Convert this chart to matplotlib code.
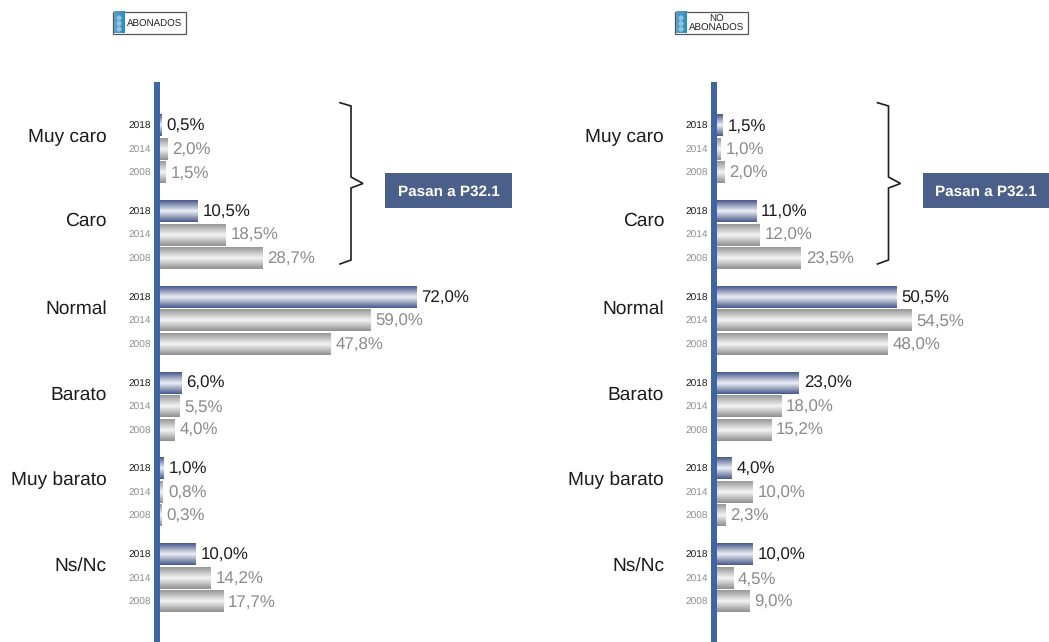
# ============================================================
# plot.py - Valoracion del precio, abonados / no abonados
# ============================================================

import numpy as np
import matplotlib
matplotlib.use("Agg")
import matplotlib.pyplot as plt
from matplotlib.colors import LinearSegmentedColormap
from matplotlib.patches import Rectangle, Circle

plt.rcParams["font.family"] = ["Liberation Sans", "DejaVu Sans"]
plt.rcParams["text.hinting"] = "none"

# ============================================================
# Data
# ============================================================
categories = ["Muy caro", "Caro", "Normal", "Barato", "Muy barato", "Ns/Nc"]
years = ["2018", "2014", "2008"]

abonados_2018 = [0.5, 10.5, 72.0, 6.0, 1.0, 10.0]
abonados_2014 = [2.0, 18.5, 59.0, 5.5, 0.8, 14.2]
abonados_2008 = [1.5, 28.7, 47.8, 4.0, 0.3, 17.7]

no_abonados_2018 = [1.5, 11.0, 50.5, 23.0, 4.0, 10.0]
no_abonados_2014 = [1.0, 12.0, 54.5, 18.0, 10.0, 4.5]
no_abonados_2008 = [2.0, 23.5, 48.0, 15.2, 2.3, 9.0]

# ============================================================
# Layout (pixels of the 1049x642 canvas)
# ============================================================
W, H = 1049, 642
DPI = 100
PX_PER_PCT = 3.56
AXIS_TOP = 82
GROUP_STEP = 85.8
BAR_STEP = 23.5
BAR_H = 21.5
FIRST_BAR = 125.5
LABEL_Y = [137.5, 220.5, 308.5, 394.5, 480.5, 565.5]

BLUE_CMAP = LinearSegmentedColormap.from_list("blue_bar", ["#47598a", "#eef0f6", "#47598a"])
GREY_CMAP = LinearSegmentedColormap.from_list("grey_bar", ["#979797", "#f4f4f4", "#8f8f8f"])
GRADIENT = np.linspace(0, 1, 64).reshape(-1, 1)


def draw_panel(fig, left, series):
    """One panel: spine on the left, three gradient bars per category."""
    width = 300
    ax = fig.add_axes([left / W, 0, width / W, (H - AXIS_TOP) / H])
    ax.set_xlim(0, width / PX_PER_PCT)
    ax.set_ylim(H - FIRST_BAR, AXIS_TOP - FIRST_BAR)
    ax.patch.set_alpha(0)

    for s in ["top", "right", "bottom"]:
        ax.spines[s].set_visible(False)
    ax.spines["left"].set_position(("outward", 3 * 72 / DPI))
    ax.spines["left"].set_linewidth(6 * 72 / DPI)
    ax.spines["left"].set_color("#3f65a3")
    ax.spines["left"].set_capstyle("butt")
    ax.set_xticks([])
    ax.set_yticks([])

    for j, values in enumerate(series):
        ypos = np.arange(len(values)) * GROUP_STEP + j * BAR_STEP
        cmap = BLUE_CMAP if j == 0 else GREY_CMAP
        color = "#1c1c1c" if j == 0 else "#8a8a8a"
        bars = ax.barh(ypos, values, height=BAR_H, color="none")
        for bar, val, y in zip(bars, values, ypos):
            ax.imshow(GRADIENT, cmap=cmap, aspect="auto", interpolation="bilinear",
                      extent=(0, val, y + BAR_H / 2, y - BAR_H / 2), zorder=2)
            ax.annotate(f"{val:.1f}%".replace(".", ","), (val, y), xytext=(5, -1),
                        textcoords="offset pixels", va="center", ha="left",
                        fontsize=12.2, color=color, annotation_clip=False)
            ax.annotate(years[j], (0, y), xytext=(-9.5, -1), textcoords="offset pixels",
                        va="center", ha="right", fontsize=7.3,
                        color="#1c1c1c" if j == 0 else "#8f8f8f", annotation_clip=False)

    ax.set_xlim(0, width / PX_PER_PCT)
    ax.set_ylim(H - FIRST_BAR, AXIS_TOP - FIRST_BAR)
    return ax


def draw_legend(ov, x0, label):
    """Small boxed tag with the blue icon."""
    ov.add_patch(Rectangle((x0, 11.5), 73.5, 22.5, fc="white", ec="#555555", lw=0.9, zorder=3))
    ov.imshow(np.linspace(0, 1, 16).reshape(1, -1), cmap=LinearSegmentedColormap.from_list(
        "icon", ["#5f9fc4", "#2c8cc4"]), aspect="auto", extent=(x0 + 1, x0 + 12, 33.5, 12), zorder=4)
    for cy in (18, 23.5, 29):
        ov.add_patch(Circle((x0 + 6.5, cy), 2.6, fc="#8fc4df", ec="none", zorder=5))
    ov.text(x0 + 42, 24, label, fontsize=7, color="#222222", ha="center", va="center",
            linespacing=1.0, zorder=5)


def draw_bracket(ov, x0):
    """Curly bracket plus the 'Pasan a P32.1' box; x0 is the bracket's left end."""
    xs = np.array([0, 11, 11, 23, 11, 11, 0]) + x0
    ys = [102.7, 106, 177, 183.5, 188, 260, 264]
    ov.plot(xs, ys, color="#1e1e1e", lw=1.2, solid_joinstyle="miter")
    ov.add_patch(Rectangle((x0 + 45, 173), 127, 35, fc="#4a5f8a", ec="none"))
    ov.text(x0 + 108.5, 191.5, "Pasan a P32.1", color="white", fontsize=11, fontweight="bold",
            ha="center", va="center")


# ============================================================
# Figure
# ============================================================
fig = plt.figure(figsize=(W / DPI, H / DPI), dpi=DPI, facecolor="white")

draw_panel(fig, 160, [abonados_2018, abonados_2014, abonados_2008])
draw_panel(fig, 717, [no_abonados_2018, no_abonados_2014, no_abonados_2008])

ov = fig.add_axes([0, 0, 1, 1])
ov.patch.set_alpha(0)
ov.axis("off")

for name, y in zip(categories, LABEL_Y):
    ov.text(107, y, name, fontsize=13.75, color="#1c1c1c", ha="right", va="center")
    ov.text(664, y, name, fontsize=13.75, color="#1c1c1c", ha="right", va="center")

draw_legend(ov, 112.5, "ABONADOS")
draw_legend(ov, 674.5, "NO\nABONADOS")
draw_bracket(ov, 340)
draw_bracket(ov, 877.5)

ov.set_xlim(0, W)
ov.set_ylim(H, 0)

fig.savefig("out.png", dpi=DPI)
